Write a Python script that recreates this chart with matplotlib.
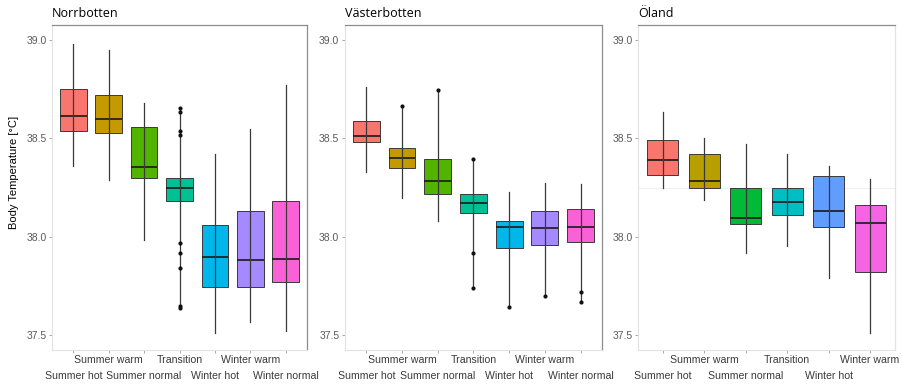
import matplotlib.pyplot as plt

# Categories per region
cats7 = ["Summer hot", "Summer warm", "Summer normal", "Transition",
         "Winter hot", "Winter warm", "Winter normal"]
cats6 = cats7[:6]

colors7 = ["#F8766D", "#C49A00", "#53B400", "#00C094", "#00B6EB", "#A58AFF", "#FB61D7"]
colors6 = ["#F8766D", "#B79F00", "#00BA38", "#00BFC4", "#619CFF", "#F564E3"]

# box stats: whisker low, Q1, median, Q3, whisker high
norr_lo = [38.36, 38.29, 37.985, 37.64, 37.51, 37.57, 37.52]
norr_q1 = [38.54, 38.53, 38.30, 38.18, 37.745, 37.745, 37.77]
norr_med = [38.615, 38.60, 38.355, 38.25, 37.90, 37.885, 37.89]
norr_q3 = [38.75, 38.72, 38.56, 38.30, 38.06, 38.13, 38.18]
norr_hi = [38.98, 38.95, 38.68, 38.655, 38.42, 38.55, 38.77]
norr_out = [[], [], [], [38.655, 38.635, 38.54, 38.52, 37.97, 37.92, 37.84, 37.65, 37.64], [], [], []]

vast_lo = [38.33, 38.20, 38.08, 37.74, 37.645, 37.70, 37.67]
vast_q1 = [38.48, 38.35, 38.22, 38.12, 37.945, 37.96, 37.975]
vast_med = [38.515, 38.40, 38.285, 38.17, 38.05, 38.045, 38.05]
vast_q3 = [38.59, 38.45, 38.395, 38.22, 38.08, 38.13, 38.14]
vast_hi = [38.76, 38.665, 38.745, 38.395, 38.23, 38.275, 38.27]
vast_out = [[], [38.665], [38.745], [38.395, 37.92, 37.74], [37.645], [37.70], [37.72, 37.67]]

ola_lo = [38.25, 38.19, 37.92, 37.955, 37.79, 37.51]
ola_q1 = [38.315, 38.25, 38.065, 38.11, 38.05, 37.82]
ola_med = [38.39, 38.285, 38.095, 38.175, 38.13, 38.07]
ola_q3 = [38.49, 38.42, 38.25, 38.25, 38.31, 38.16]
ola_hi = [38.635, 38.50, 38.47, 38.42, 38.36, 38.295]
ola_out = [[], [], [], [], [], []]

panels = [
    ("Norrbotten", cats7, colors7, norr_lo, norr_q1, norr_med, norr_q3, norr_hi, norr_out),
    ("Västerbotten", cats7, colors7, vast_lo, vast_q1, vast_med, vast_q3, vast_hi, vast_out),
    ("Öland", cats6, colors6, ola_lo, ola_q1, ola_med, ola_q3, ola_hi, ola_out),
]

plt.rcParams["font.family"] = ["Liberation Sans", "DejaVu Sans"]

fig = plt.figure(figsize=(9.03, 3.84), dpi=100)
lefts = [0.0576, 0.382, 0.7065]
widths = [0.2824, 0.2846, 0.2846]

for i, (title, cats, cols, lo, q1, med, q3, hi, out) in enumerate(panels):
    ax = fig.add_axes([lefts[i], 0.0885, widths[i], 0.8464])
    n = len(cats)
    pos = list(range(1, n + 1))
    stats = []
    for k in range(n):
        stats.append({"whislo": lo[k], "q1": q1[k], "med": med[k], "q3": q3[k],
                      "whishi": hi[k], "fliers": out[k]})
    bp = ax.bxp(stats, positions=pos, widths=0.75, patch_artist=True, showcaps=False,
                boxprops=dict(edgecolor="#3a3a3a", linewidth=0.7),
                whiskerprops=dict(color="#3a3a3a", linewidth=0.9),
                medianprops=dict(color="#1a1a1a", linewidth=1.2),
                flierprops=dict(marker="o", markersize=2.0, markerfacecolor="#111111",
                                markeredgecolor="#111111"))
    for patch, c in zip(bp["boxes"], cols):
        patch.set_facecolor(c)
    # whisker line visible through the box
    ax.vlines(pos, q1, q3, color="#3a3a3a", linewidth=0.9, zorder=3)

    ax.set_xlim(0.4, n + 0.6)
    ax.set_ylim(37.426, 39.076)
    ax.set_yticks([37.5, 38.0, 38.5, 39.0])
    ax.set_yticklabels(["37.5", "38.0", "38.5", "39.0"])

    # dodged category labels: lower row on major ticks, upper row on minor ticks
    ax.set_xticks(pos[0::2])
    ax.set_xticklabels(cats[0::2])
    ax.set_xticks(pos[1::2], minor=True)
    ax.set_xticklabels(cats[1::2], minor=True)
    ax.tick_params(axis="x", which="major", length=2, width=0.6, color="#9a9a9a",
                   labelsize=7.6, labelcolor="#3a3a3a", pad=13)
    ax.tick_params(axis="x", which="minor", length=2, width=0.6, color="#9a9a9a",
                   labelsize=7.6, labelcolor="#3a3a3a", pad=1.5)
    ax.tick_params(axis="y", length=2.5, width=0.6, color="#9a9a9a", labelsize=7.5,
                   labelcolor="#5a5a5a", pad=1.5)
    ax.set_title(title, loc="left", fontsize=9, fontfamily="Open Sans", pad=6)

    for side in ["top", "right"]:
        ax.spines[side].set_color("#8c8c8c")
        ax.spines[side].set_linewidth(0.9)
    for side in ["left", "bottom"]:
        ax.spines[side].set_color("#e2e2e2")
        ax.spines[side].set_linewidth(0.8)
    if title == "Öland":
        ax.spines["right"].set_color("#e2e2e2")
        ax.axhline(38.25, color="#f0f0f0", linewidth=0.8, zorder=0)

fig.text(14 / 903, 0.55, "Body Temperature [°C]", rotation=90, ha="center", va="center",
         fontsize=8)

fig.savefig("out.png", dpi=100)
